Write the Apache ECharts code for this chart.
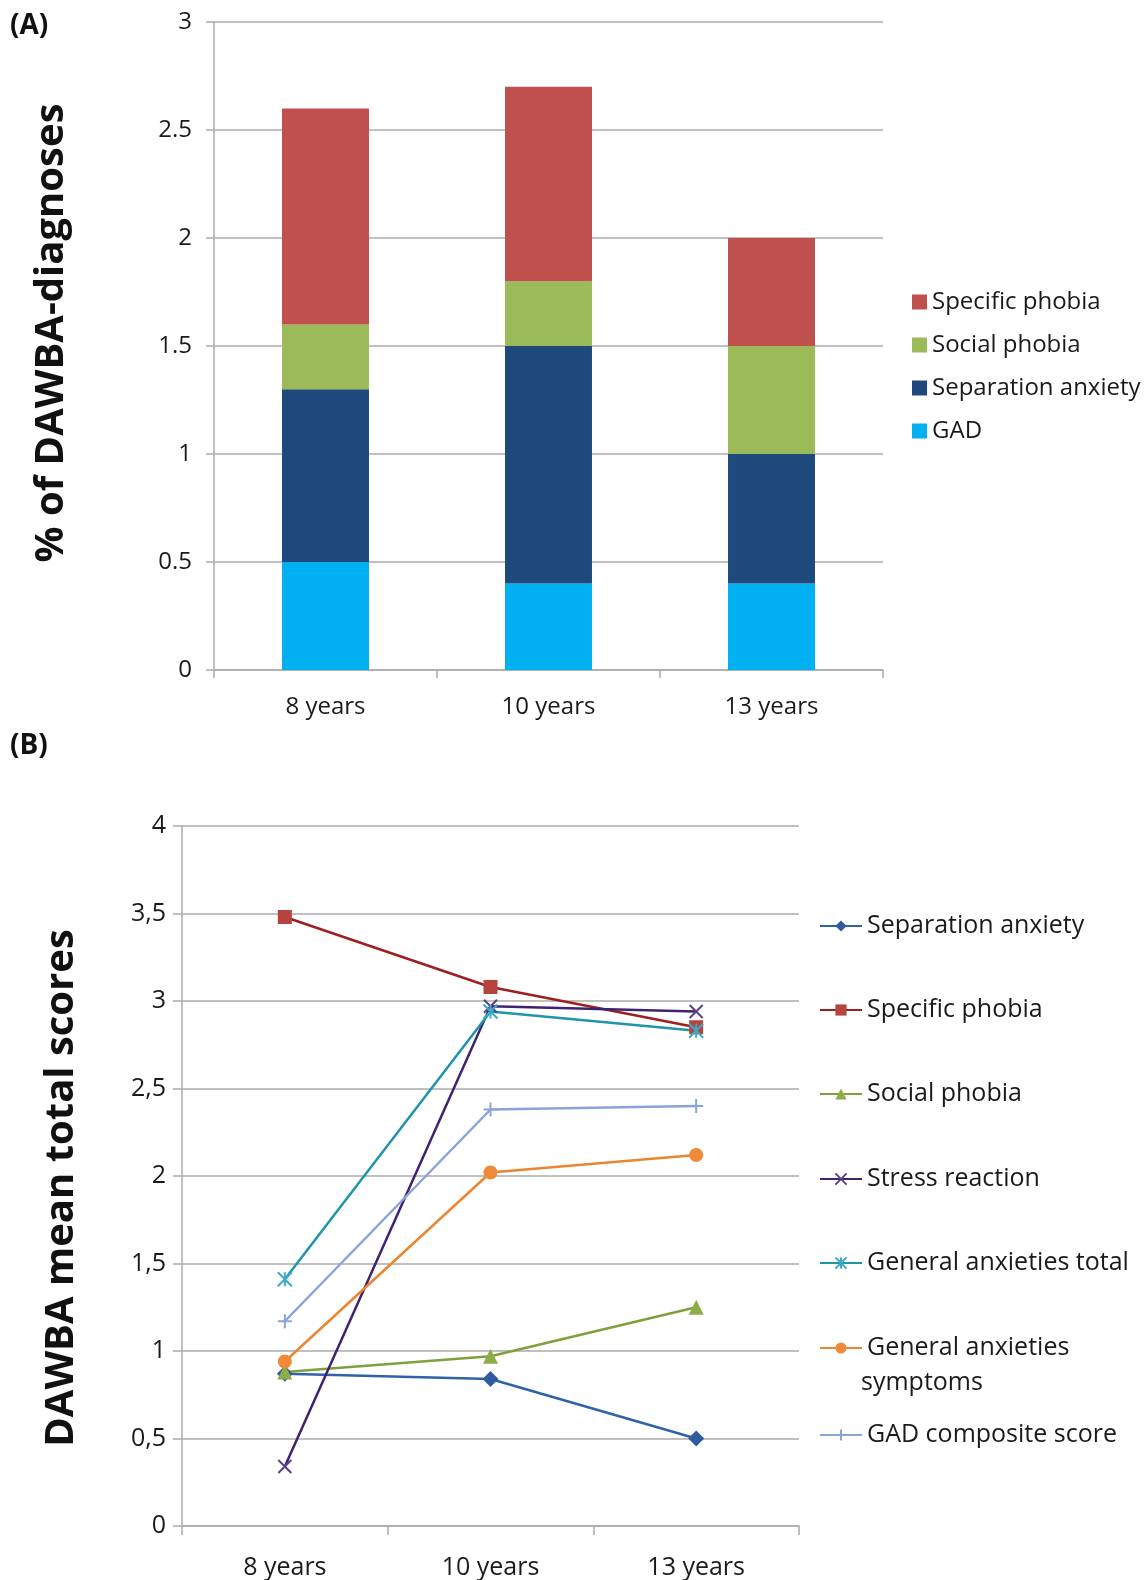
<!DOCTYPE html>
<html>
<head>
<meta charset="utf-8">
<script src="https://cdn.jsdelivr.net/npm/echarts@6/dist/echarts.min.js"></script>
<style>
html,body{margin:0;padding:0;background:#fff;}
#chart{width:1146px;height:1580px;}
</style>
</head>
<body>
<div id="chart"></div>
<script>
// ---------- DATA ----------
const categories = ['8 years', '10 years', '13 years'];

// Panel A: % of DAWBA-diagnoses (stacked)
const gadA = [0.5, 0.4, 0.4];
const separationA = [0.8, 1.1, 0.6];
const socialA = [0.3, 0.3, 0.5];
const specificA = [1.0, 0.9, 0.5];

// Panel B: DAWBA mean total scores
const separationB = [0.87, 0.84, 0.50];
const specificB = [3.48, 3.08, 2.85];
const socialB = [0.88, 0.97, 1.25];
const stressB = [0.34, 2.97, 2.94];
const genTotalB = [1.41, 2.94, 2.83];
const genSymptomsB = [0.94, 2.02, 2.12];
const gadCompositeB = [1.17, 2.38, 2.40];

const yTicksA = [0, 0.5, 1, 1.5, 2, 2.5, 3];
const yTicksB = [0, 0.5, 1, 1.5, 2, 2.5, 3, 3.5, 4];

// ---------- STYLE ----------
const FONT = '"Open Sans", "Noto Sans", sans-serif';
const GRID_C = '#ABABAB';
const TXT = '#1a1a1a';

const SYM_X = 'path://M0,0L10,10M10,0L0,10';
const SYM_AST = 'path://M0,0L10,10M10,0L0,10M5,0L5,10';
const SYM_PLUS = 'path://M5,0L5,10M0,5L10,5';

const chart = echarts.init(document.getElementById('chart'), null, {renderer: 'canvas'});

function lineSeries(name, data, lineColor, markColor, symbol, size, stroke) {
  return {
    name: name, type: 'line', xAxisIndex: 1, yAxisIndex: 1, data: data,
    symbol: symbol, symbolSize: size, showAllSymbol: true,
    lineStyle: {color: lineColor, width: 2.5},
    itemStyle: stroke
      ? {color: markColor, borderColor: markColor, borderWidth: 2}
      : {color: markColor, borderColor: markColor, borderWidth: 0},
    emphasis: {disabled: true},
    z: 3
  };
}

const legendB = [
  ['Separation anxiety', 921],
  ['Specific phobia', 1005],
  ['Social phobia', 1089],
  ['Stress reaction', 1174],
  ['General anxieties total', 1258],
  ['General anxieties symptoms', 1343],
  ['GAD composite score', 1430]
];

const legends = [{
  orient: 'vertical', left: 907, top: 285,
  data: ['Specific phobia A', 'Social phobia A', 'Separation anxiety A', 'GAD A'],
  formatter: n => n.replace(/ A$/, ''),
  itemWidth: 15, itemHeight: 15, itemGap: 19,
  icon: 'rect',
  textStyle: {fontFamily: FONT, fontSize: 24, color: TXT},
  selectedMode: false
}];
legendB.forEach(([name, y]) => {
  legends.push({
    orient: 'vertical', left: 814, top: y - 16,
    data: [name],
    formatter: n => n === 'General anxieties symptoms' ? 'General anxieties' : n,
    itemWidth: 42, itemHeight: 14,
    textStyle: {fontFamily: FONT, fontSize: 25, color: TXT, lineHeight: 32},
    selectedMode: false
  });
});

const option = {
  backgroundColor: '#ffffff',
  animation: false,
  textStyle: {fontFamily: FONT},
  legend: legends,
  grid: [
    {left: 214, top: 22, right: 263, bottom: 910, containLabel: false},
    {left: 182, top: 826, right: 347, bottom: 52, containLabel: false}
  ],
  xAxis: [
    {
      type: 'category', gridIndex: 0, data: categories, boundaryGap: true,
      axisLine: {show: true, lineStyle: {color: GRID_C, width: 1.5}},
      axisTick: {show: true, length: 8, alignWithLabel: false, lineStyle: {color: GRID_C, width: 1.5}},
      axisLabel: {fontFamily: FONT, fontSize: 24, color: TXT, margin: 25},
      splitLine: {show: false}
    },
    {
      type: 'category', gridIndex: 1, data: categories, boundaryGap: true,
      axisLine: {show: true, lineStyle: {color: GRID_C, width: 1.5}},
      axisTick: {show: true, length: 9, alignWithLabel: false, lineStyle: {color: GRID_C, width: 1.5}},
      axisLabel: {fontFamily: FONT, fontSize: 25, color: TXT, margin: 29},
      splitLine: {show: false}
    }
  ],
  yAxis: [
    {
      type: 'value', gridIndex: 0, min: yTicksA[0], max: yTicksA[yTicksA.length - 1], interval: 0.5,
      axisLine: {show: true, lineStyle: {color: GRID_C, width: 1.5}},
      axisTick: {show: true, length: 8, lineStyle: {color: GRID_C, width: 1.5}},
      axisLabel: {fontFamily: FONT, fontSize: 24, color: TXT, margin: 22},
      splitLine: {show: true, lineStyle: {color: GRID_C, width: 1.5}}
    },
    {
      type: 'value', gridIndex: 1, min: yTicksB[0], max: yTicksB[yTicksB.length - 1], interval: 0.5,
      axisLine: {show: true, lineStyle: {color: GRID_C, width: 1.5}},
      axisTick: {show: true, length: 9, lineStyle: {color: GRID_C, width: 1.5}},
      axisLabel: {fontFamily: FONT, fontSize: 25, color: TXT, margin: 16,
        formatter: v => String(v).replace('.', ',')},
      splitLine: {show: true, lineStyle: {color: GRID_C, width: 1.5}}
    }
  ],
  series: [
    {name: 'GAD A', type: 'bar', stack: 'a', xAxisIndex: 0, yAxisIndex: 0, data: gadA,
      barWidth: '39%', itemStyle: {color: '#00B0F0'}, emphasis: {disabled: true}},
    {name: 'Separation anxiety A', type: 'bar', stack: 'a', xAxisIndex: 0, yAxisIndex: 0, data: separationA,
      barWidth: '39%', itemStyle: {color: '#1F497D'}, emphasis: {disabled: true}},
    {name: 'Social phobia A', type: 'bar', stack: 'a', xAxisIndex: 0, yAxisIndex: 0, data: socialA,
      barWidth: '39%', itemStyle: {color: '#9BBB59'}, emphasis: {disabled: true}},
    {name: 'Specific phobia A', type: 'bar', stack: 'a', xAxisIndex: 0, yAxisIndex: 0, data: specificA,
      barWidth: '39%', itemStyle: {color: '#C0504D'}, emphasis: {disabled: true}},

    lineSeries('Separation anxiety', separationB, '#2F62A8', '#2F5C9C', 'diamond', 16, false),
    lineSeries('Specific phobia', specificB, '#9E1F1F', '#B5443F', 'rect', 14, false),
    lineSeries('Social phobia', socialB, '#7EA23A', '#8BAE48', 'triangle', 15, false),
    lineSeries('Stress reaction', stressB, '#3E2370', '#5A4189', SYM_X, 13, true),
    lineSeries('General anxieties total', genTotalB, '#1E95AA', '#3AAAC6', SYM_AST, 14, true),
    lineSeries('General anxieties symptoms', genSymptomsB, '#EC8530', '#EE8A3A', 'circle', 14, false),
    lineSeries('GAD composite score', gadCompositeB, '#8AA4D9', '#8AA4D9', SYM_PLUS, 14, true)
  ],
  graphic: [
    {type: 'text', left: 10, top: 12, style: {text: '(A)', font: 'bold 28px ' + FONT, fill: '#111'}},
    {type: 'text', left: 10, top: 732, style: {text: '(B)', font: 'bold 28px ' + FONT, fill: '#111'}},
    {type: 'text', x: 52, y: 333, rotation: Math.PI / 2,
      style: {text: '% of DAWBA-diagnoses', font: 'bold 40px ' + FONT, fill: '#111',
        textAlign: 'center', textVerticalAlign: 'middle'}},
    {type: 'text', x: 62, y: 1188, rotation: Math.PI / 2,
      style: {text: 'DAWBA mean total scores', font: 'bold 40px ' + FONT, fill: '#111',
        textAlign: 'center', textVerticalAlign: 'middle'}},
    {type: 'text', x: 861, y: 1383,
      style: {text: 'symptoms', font: '25px ' + FONT, fill: TXT, textAlign: 'left', textVerticalAlign: 'middle'}}
  ]
};
chart.setOption(option);
</script>
</body>
</html>
